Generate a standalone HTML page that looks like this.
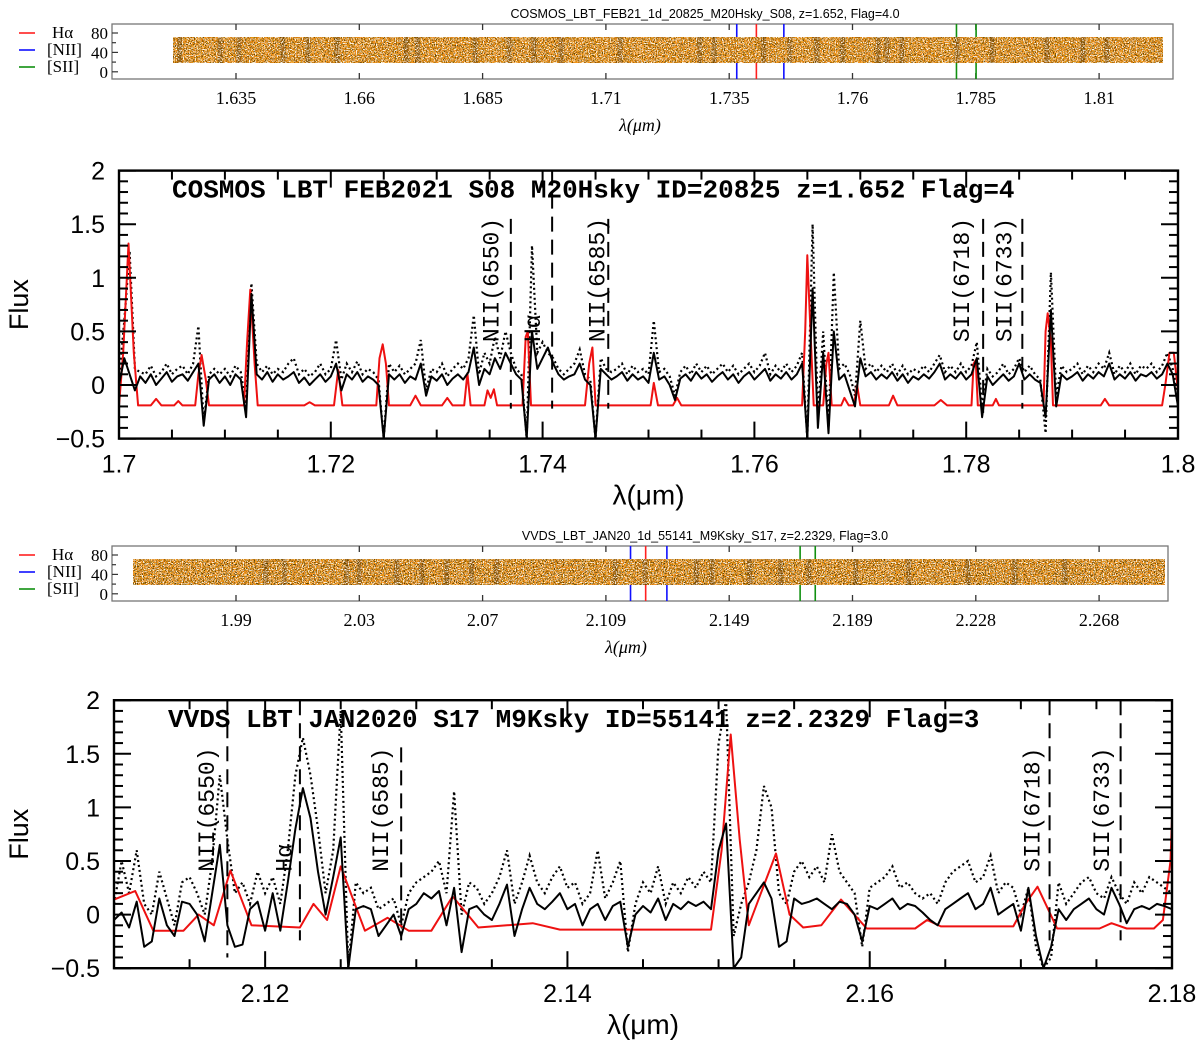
<!DOCTYPE html>
<html><head><meta charset="utf-8">
<style>
html,body{margin:0;padding:0;background:#fff;}
svg{display:block;}
.mono{font-family:"Liberation Mono","DejaVu Sans Mono",monospace;}
.serif{font-family:"Liberation Serif","DejaVu Serif",serif;}
.sans{font-family:"Liberation Sans","DejaVu Sans",sans-serif;}
</style></head>
<body>
<svg id="fig" width="1200" height="1045" viewBox="0 0 1200 1045" xmlns="http://www.w3.org/2000/svg">
<defs>
<filter id="specDark" x="0" y="0" width="100%" height="100%">
<feTurbulence type="fractalNoise" baseFrequency="0.9" numOctaves="1" seed="3"/>
<feColorMatrix type="matrix" values="0 0 0 0 0.1  0 0 0 0 0.05  0 0 0 0 0  9 0 0 0 -4.5"/>
</filter>
<filter id="specLight" x="0" y="0" width="100%" height="100%">
<feTurbulence type="fractalNoise" baseFrequency="0.85" numOctaves="1" seed="11"/>
<feColorMatrix type="matrix" values="0 0 0 0 1  0 0 0 0 0.97  0 0 0 0 0.9  9 0 0 0 -4.7"/>
</filter>
<filter id="specOr" x="0" y="0" width="100%" height="100%">
<feTurbulence type="fractalNoise" baseFrequency="0.7" numOctaves="1" seed="7"/>
<feColorMatrix type="matrix" values="0 0 0 0 0.75  0 0 0 0 0.35  0 0 0 0 0.0  3 0 0 0 -1.3"/>
</filter>
<clipPath id="clip1"><rect x="119" y="171" width="1059" height="268"/></clipPath>
<clipPath id="clip2"><rect x="114" y="700" width="1058" height="268"/></clipPath>
</defs>
</svg>
<script>
// ===== Panel 1 data (COSMOS z=1.652) =====
const p1Start = 1.7;
const p1Step = 0.0005;
const p1Solid = [0.0,0.25,0.1,-0.05,0.08,0.02,0.1,0.0,0.06,0.12,0.03,0.08,0.1,0.04,0.12,0.2,-0.38,0.05,0.1,0.02,0.08,0.0,0.1,0.05,-0.3,0.85,0.1,0.05,0.12,0.03,0.1,0.05,0.08,0.12,0.02,0.07,0.0,0.05,0.1,0.03,0.08,0.2,-0.05,0.1,0.05,0.12,0.03,0.08,0.05,0.0,-0.5,0.1,0.05,0.1,0.02,0.08,0.05,0.2,-0.1,0.08,0.04,0.1,0.0,0.06,0.1,0.05,0.12,0.35,0.0,0.15,0.1,0.25,0.15,0.3,0.2,0.1,0.05,-0.5,0.5,0.15,0.25,0.35,0.2,0.1,0.05,0.08,0.1,0.2,0.05,0.0,-0.5,0.15,0.1,0.05,0.08,0.12,0.04,0.1,0.05,0.08,0.02,0.3,0.05,0.08,0.0,-0.14,0.06,0.1,0.04,0.12,0.06,0.1,0.03,0.08,0.12,0.05,0.1,0.02,0.08,0.12,0.05,0.1,0.15,0.04,0.1,0.06,0.12,0.05,0.1,0.2,-0.5,0.9,-0.4,0.3,-0.45,0.5,0.05,0.1,-0.05,-0.2,0.25,0.08,0.12,0.05,0.1,0.06,0.12,0.04,0.1,0.02,0.08,0.05,0.1,0.06,0.12,0.2,0.05,0.1,0.06,0.12,0.05,0.1,0.25,-0.3,0.08,0.0,0.05,0.1,0.04,0.08,0.2,0.05,0.1,0.05,0.02,-0.3,0.7,-0.2,0.1,0.05,0.08,0.12,0.04,0.1,0.06,0.12,0.08,0.2,0.05,0.1,0.06,0.12,0.04,0.1,0.08,0.12,0.06,0.1,0.2,0.1,-0.2];
const p1Dotted = [0.05,0.6,1.25,0.15,0.12,0.1,0.18,0.08,0.12,0.2,0.1,0.15,0.18,0.1,0.2,0.55,-0.35,0.1,0.15,0.1,0.15,0.08,0.18,0.12,-0.2,0.95,0.2,0.12,0.18,0.1,0.15,0.12,0.2,0.25,0.1,0.15,0.08,0.12,0.2,0.1,0.15,0.42,0.05,0.2,0.12,0.22,0.1,0.15,0.12,0.05,-0.5,0.2,0.12,0.18,0.1,0.15,0.2,0.42,-0.05,0.15,0.12,0.2,0.08,0.15,0.2,0.15,0.25,0.65,0.1,0.3,0.2,0.45,0.25,0.5,0.3,0.15,0.1,-0.5,1.3,0.3,0.4,0.3,0.25,0.15,0.1,0.15,0.2,0.33,0.1,0.05,-0.5,0.25,0.15,0.12,0.15,0.2,0.1,0.18,0.12,0.15,0.1,0.6,0.12,0.15,0.08,-0.1,0.12,0.18,0.1,0.2,0.12,0.18,0.1,0.15,0.2,0.12,0.18,0.1,0.15,0.2,0.12,0.18,0.3,0.1,0.18,0.12,0.2,0.12,0.18,0.3,-0.5,1.5,-0.3,0.5,-0.4,1.05,0.15,0.2,0.1,-0.1,0.6,0.15,0.2,0.12,0.18,0.12,0.2,0.1,0.18,0.1,0.15,0.12,0.18,0.12,0.2,0.28,0.12,0.18,0.12,0.2,0.12,0.18,0.4,-0.2,0.15,0.08,0.12,0.2,0.1,0.15,0.25,0.12,0.18,0.1,0.05,-0.45,1.05,-0.1,0.18,0.12,0.15,0.2,0.1,0.18,0.12,0.2,0.15,0.3,0.1,0.18,0.12,0.2,0.1,0.18,0.15,0.2,0.12,0.18,0.3,0.15,-0.1];
const p1ModelLambda = [1.7,1.7004,1.7009,1.7014,1.7018,1.7030,1.7035,1.7040,1.7052,1.7056,1.7060,1.7072,1.7075,1.7078,1.7082,1.7085,1.7118,1.7121,1.7124,1.7128,1.7131,1.7175,1.7180,1.7185,1.7203,1.7207,1.7211,1.7243,1.7246,1.7249,1.7252,1.7255,1.7275,1.7280,1.7285,1.7305,1.7310,1.7315,1.7326,1.7329,1.7332,1.7345,1.7348,1.7351,1.7354,1.7357,1.7381,1.7384,1.7386,1.7389,1.7440,1.7444,1.7447,1.7450,1.7502,1.7505,1.7509,1.7523,1.7527,1.7531,1.7645,1.7648,1.7650,1.7653,1.7656,1.7665,1.7668,1.7670,1.7673,1.7682,1.7685,1.7689,1.7694,1.7697,1.7700,1.7727,1.7731,1.7735,1.7770,1.7776,1.7782,1.7805,1.7807,1.7809,1.7811,1.7825,1.7828,1.7831,1.7873,1.7875,1.7877,1.7880,1.7882,1.7927,1.7931,1.7935,1.7985,1.7988,1.7992,1.7996,1.8];
const p1ModelFlux = [-0.19,0.3,1.32,0.3,-0.19,-0.19,-0.13,-0.19,-0.19,-0.15,-0.19,-0.19,0.1,0.28,0.05,-0.19,-0.19,0.4,0.89,0.2,-0.19,-0.19,-0.16,-0.19,-0.19,0.14,-0.19,-0.19,0.25,0.38,0.2,-0.19,-0.19,-0.1,-0.19,-0.19,-0.12,-0.19,-0.19,0.11,-0.19,-0.19,-0.05,-0.12,-0.04,-0.19,-0.19,0.45,0.5,-0.19,-0.19,0.2,0.35,-0.19,-0.19,0.02,-0.19,-0.19,-0.12,-0.19,-0.19,0.5,1.21,0.5,-0.19,-0.19,0.2,0.3,-0.19,-0.19,-0.12,-0.19,-0.19,0.0,-0.19,-0.19,-0.1,-0.19,-0.19,-0.14,-0.19,-0.19,0.2,0.23,-0.19,-0.19,-0.13,-0.19,-0.19,0.5,0.67,0.4,-0.19,-0.19,-0.13,-0.19,-0.19,0.0,0.3,0.3,-0.05];
const p1LineNames = ["NII(6550)","Hα","NII(6585)","SII(6718)","SII(6733)"];
const p1LineLambda = [1.7370,1.7409,1.7462,1.7816,1.7853];
const p1LineTop = [1.55,2.0,1.55,1.55,1.55];
const p1LineBottom = [-0.22,-0.22,-0.22,-0.26,-0.22];
const p1LabelLambda = [1.7351,1.7390,1.7451,1.7795,1.7835];
const p1XTicks = [1.7,1.72,1.74,1.76,1.78,1.8];
const p1XTickLabels = ["1.7","1.72","1.74","1.76","1.78","1.8"];

// ===== Panel 2 data (VVDS z=2.2329) =====
const p2Start = 2.11;
const p2Step = 0.0005;
const p2Solid = [-0.05,0.02,-0.12,0.12,-0.3,-0.25,0.15,-0.1,-0.2,0.12,0.1,0.0,-0.25,0.2,0.65,-0.1,-0.3,-0.28,0.05,0.12,-0.15,0.2,-0.15,0.3,0.8,1.18,0.9,0.4,0.0,0.35,0.72,-0.5,0.05,0.08,0.05,-0.2,-0.1,0.0,-0.2,0.05,0.1,0.2,0.15,0.22,-0.1,0.25,-0.35,0.05,0.08,0.0,-0.05,0.1,0.28,-0.2,0.05,0.25,0.1,0.05,0.12,0.2,0.05,0.1,-0.1,0.05,0.1,-0.05,0.08,0.12,-0.3,0.0,0.08,0.02,0.15,-0.05,0.1,0.05,0.12,0.08,0.12,0.05,0.6,0.85,-0.5,-0.4,0.1,0.2,0.3,0.15,-0.3,-0.25,0.15,0.1,0.12,0.15,0.1,0.05,0.12,0.1,0.0,-0.25,0.08,0.05,0.1,0.15,0.05,0.1,0.08,0.02,-0.05,-0.1,0.05,0.1,0.15,0.2,0.05,0.1,0.25,0.0,0.05,0.1,-0.15,0.25,-0.2,-0.5,-0.3,0.05,-0.05,0.05,0.1,0.15,0.05,0.0,0.25,0.1,-0.08,0.05,0.08,0.05,0.1,0.08,0.05];
const p2Dotted = [0.1,0.5,0.2,0.6,0.1,0.0,0.4,0.15,-0.1,0.3,0.35,0.2,0.0,0.5,1.3,0.7,0.2,0.3,0.1,0.4,0.2,0.35,0.1,0.6,1.3,1.65,1.3,0.8,0.2,0.6,1.9,-0.5,0.3,0.2,0.25,0.05,0.1,0.15,-0.1,0.2,0.3,0.35,0.4,0.5,0.2,1.15,0.0,0.3,0.25,0.1,0.2,0.35,0.6,0.1,0.3,0.55,0.3,0.2,0.35,0.45,0.25,0.3,0.1,0.2,0.6,0.15,0.3,0.5,-0.35,0.1,0.3,0.2,0.45,0.1,0.3,0.2,0.35,0.25,0.4,0.3,1.6,2.0,-0.2,0.1,0.3,0.6,1.2,1.0,0.2,0.1,0.4,0.5,0.35,0.45,0.3,0.75,0.4,0.3,0.2,-0.3,0.25,0.3,0.35,0.45,0.25,0.3,0.2,0.15,0.2,0.1,0.3,0.4,0.45,0.5,0.3,0.35,0.55,0.2,0.3,0.25,0.0,0.25,-0.3,-0.5,-0.4,0.3,0.1,0.2,0.3,0.35,0.2,0.15,0.35,0.2,0.1,0.3,0.2,0.35,0.3,0.25,0.2];
const p2ModelLambda = [2.11,2.1114,2.1126,2.1146,2.1156,2.1166,2.1177,2.1191,2.1223,2.1232,2.1241,2.125,2.1266,2.1281,2.1295,2.131,2.1324,2.1341,2.136,2.1377,2.1395,2.1495,2.1502,2.1508,2.1514,2.152,2.1528,2.1538,2.1547,2.1556,2.1568,2.1581,2.1598,2.163,2.1638,2.1647,2.1695,2.1703,2.1711,2.1718,2.1724,2.1752,2.176,2.177,2.1788,2.1794,2.1799,2.18];
const p2ModelFlux = [0.14,0.22,-0.15,-0.15,0.0,-0.1,0.41,-0.1,-0.12,0.1,-0.05,0.45,-0.15,-0.03,-0.15,-0.15,0.17,-0.12,-0.1,-0.08,-0.14,-0.14,0.6,1.68,0.7,-0.1,0.2,0.57,0.0,-0.12,-0.1,0.14,-0.13,-0.13,-0.05,-0.11,-0.11,0.1,0.26,0.05,-0.13,-0.13,-0.08,-0.13,-0.13,-0.05,0.5,0.9];
const p2LineNames = ["NII(6550)","Hα","NII(6585)","SII(6718)","SII(6733)"];
const p2LineLambda = [2.1175,2.1223,2.1290,2.1719,2.1766];
const p2LineTop = [2.0,2.0,1.56,2.0,2.0];
const p2LineBottom = [-0.4,-0.24,-0.24,-0.24,-0.24];
const p2LabelLambda = [2.1161,2.1212,2.1276,2.1707,2.1753];
const p2XTicks = [2.12,2.14,2.16,2.18];
const p2XTickLabels = ["2.12","2.14","2.16","2.18"];

const yTicks = [2,1.5,1,0.5,0,-0.5];
const yTickLabels = ["2","1.5","1","0.5","0","−0.5"];

// ===== Strips =====
const s1Ticks = [1.635,1.66,1.685,1.71,1.735,1.76,1.785,1.81];
const s1TickLabels = ["1.635","1.66","1.685","1.71","1.735","1.76","1.785","1.81"];
const s1LineLambda = [1.73653,1.74051,1.74608,1.78108,1.78506];
const s1LineKind = ["nii","ha","nii","sii","sii"];
const s1Stripes = [1.6236,1.6318,1.6356,1.6445,1.6496,1.6555,1.6695,1.6718,1.6835,1.6904,1.6954,1.7009,1.7129,1.7290,1.7320,1.7420,1.7473,1.7528,1.7580,1.7652,1.7670,1.7700,1.7812,1.7883,1.7994,1.8067,1.8116];
const s2Ticks = [1.9905,2.03,2.0695,2.109,2.1485,2.188,2.2275,2.267];
const s2TickLabels = ["1.99","2.03","2.07","2.109","2.149","2.189","2.228","2.268"];
const s2LineLambda = [2.11689,2.12174,2.12854,2.17122,2.17607];
const s2LineKind = ["nii","ha","nii","sii","sii"];
const s2Stripes = [2.0000,2.0060,2.0260,2.0300,2.0420,2.0500,2.0580,2.0660,2.0740,2.1120,2.1215,2.1380,2.1430,2.1550,2.1650,2.1740,2.1890,2.2060,2.2250,2.2400,2.2560];

const NS = "http://www.w3.org/2000/svg";
const svg = document.getElementById("fig");
function mk(tag, attrs, parent){
  const e = document.createElementNS(NS, tag);
  for (const k in attrs) e.setAttribute(k, attrs[k]);
  (parent||svg).appendChild(e);
  return e;
}
const lineColor = {ha:"#ff2020", nii:"#1010ff", sii:"#109010"};

function strip(cfg){
  const g = mk("g", {});
  
  
  const sx = l => cfg.x0 + (l - cfg.l0) * cfg.k;
  const t = mk("text", {x:705, y:cfg.top-6, "text-anchor":"middle", class:"sans", "font-size":"12.5"}, g);
  t.textContent = cfg.title;
  
  
  const band = mk("g", {}, g);
  
  
  const ix0 = cfg.imgL, ix1 = cfg.imgR, iy0 = cfg.top+13, iy1 = cfg.top+39;
  mk("rect", {x:ix0, y:iy0, width:ix1-ix0, height:iy1-iy0, fill:"#f78f1e"}, band);
  mk("rect", {x:ix0, y:iy0, width:ix1-ix0, height:iy1-iy0, filter:"url(#specOr)"}, band);
  for (let i=0;i<cfg.stripes.length;i++){
    const sxp = sx(cfg.stripes[i]);
    const st = mk("rect", {x:sxp-2.5, y:iy0, width:5, height:iy1-iy0, fill:"#3a2410", opacity:"0.35"}, band);
    
    
  }
  mk("rect", {x:ix0, y:iy0, width:ix1-ix0, height:iy1-iy0, filter:"url(#specDark)", opacity:cfg.darkOp}, band);
  mk("rect", {x:ix0, y:iy0, width:ix1-ix0, height:iy1-iy0, filter:"url(#specLight)", opacity:"0.95"}, band);
  const fr = mk("rect", {x:cfg.left, y:cfg.top, width:cfg.right-cfg.left, height:55, fill:"none", stroke:"#777", "stroke-width":"1.3"}, g);
  
  
  for (let i=0;i<cfg.ticks.length;i++){
    const x = sx(cfg.ticks[i]);
    mk("line", {x1:x, x2:x, y1:cfg.top+55, y2:cfg.top+49, stroke:"#333", "stroke-width":"1.3"}, g);
    mk("line", {x1:x, x2:x, y1:cfg.top, y2:cfg.top+6, stroke:"#333", "stroke-width":"1.3"}, g);
    const tl = mk("text", {x:x, y:cfg.top+80, "text-anchor":"middle", class:"serif", "font-size":"18"}, g);
    tl.textContent = cfg.tickLabels[i];
    
    
  }
  const ylab = ["80","40","0"];
  for (let j=0;j<5;j++){
    const y = cfg.top+9+j*9.7;
    mk("line", {x1:cfg.left, x2:cfg.left+(j%2===0?6:4), y1:y, y2:y, stroke:"#333", "stroke-width":"1.2"}, g);
  }
  for (let j=0;j<3;j++){
    const yl = mk("text", {x:cfg.left-4, y:cfg.top+15+j*19.4, "text-anchor":"end", class:"serif", "font-size":"17"}, g);
    yl.textContent = ylab[j];
    
    
  }
  for (let i=0;i<cfg.lines.length;i++){
    const x = sx(cfg.lines[i]);
    const c = lineColor[cfg.kinds[i]];
    const a = mk("line", {x1:x, x2:x, y1:cfg.top, y2:iy0, stroke:c, "stroke-width":"1.6"}, g);
    
    
    const b = mk("line", {x1:x, x2:x, y1:iy1, y2:cfg.top+55, stroke:c, "stroke-width":"1.6"}, g);
    
    
  }
  const legN = ["Hα","[NII]","[SII]"], legC = [lineColor.ha, lineColor.nii, lineColor.sii];
  for (let j=0;j<3;j++){
    const ly = cfg.top+9+j*17;
    const le = mk("g", {}, g);
    
    
    mk("line", {x1:19, x2:35, y1:ly, y2:ly, stroke:legC[j], "stroke-width":"1.6"}, le);
    const lt = mk("text", {x:j===0?52:47, y:ly+5, class:"serif", "font-size":"17"}, le);
    lt.textContent = legN[j];
  }
  const xl = mk("text", {x:cfg.xlabX, y:cfg.top+107, "text-anchor":"middle", class:"serif", "font-size":"18", "font-style":"italic"}, g);
  xl.textContent = "λ(μm)";
  
  
}

strip({name:"strip-cosmos", title:"COSMOS_LBT_FEB21_1d_20825_M20Hsky_S08, z=1.652, Flag=4.0",
  top:24, left:112, right:1173, imgL:173, imgR:1163, x0:236, l0:1.635, k:4932,
  ticks:s1Ticks, tickLabels:s1TickLabels, lines:s1LineLambda, kinds:s1LineKind, stripes:s1Stripes, darkOp:"0.9", xlabX:640});
strip({name:"strip-vvds", title:"VVDS_LBT_JAN20_1d_55141_M9Ksky_S17, z=2.2329, Flag=3.0",
  top:546, left:112, right:1168, imgL:133, imgR:1165, x0:236, l0:1.9905, k:3121.5,
  ticks:s2Ticks, tickLabels:s2TickLabels, lines:s2LineLambda, kinds:s2LineKind, stripes:s2Stripes, darkOp:"1", xlabX:626});

function panel(cfg){
  const g = mk("g", {});
  
  
  const X = l => cfg.left + (l - cfg.l0) / (cfg.l1 - cfg.l0) * (cfg.right - cfg.left);
  const Y = v => cfg.zeroY - v * 107.2;
  const pts = (lam, val) => lam.map((l,i)=>X(l).toFixed(1)+","+Y(val[i]).toFixed(1)).join(" ");
  const grid = (arr) => arr.map((v,i)=>cfg.start + i*cfg.step);
  const plot = mk("g", {"clip-path":"url(#"+cfg.clip+")"}, g);
  const dot = mk("polyline", {points:pts(grid(cfg.dotted), cfg.dotted), fill:"none", stroke:"#000", "stroke-width":"2.2", "stroke-dasharray":"2,3"}, plot);
  
  
  const red = mk("polyline", {points:pts(cfg.modelL, cfg.modelF), fill:"none", stroke:"#ee1111", "stroke-width":"2", "stroke-linejoin":"round"}, plot);
  
  
  const sol = mk("polyline", {points:pts(grid(cfg.solid), cfg.solid), fill:"none", stroke:"#000", "stroke-width":"2", "stroke-linejoin":"round"}, plot);
  
  
  for (let i=0;i<cfg.lineL.length;i++){
    const x = X(cfg.lineL[i]);
    const dl = mk("line", {x1:x, x2:x, y1:Y(cfg.lineTop[i]), y2:Y(cfg.lineBot[i]), stroke:"#000", "stroke-width":"2", "stroke-dasharray":"15,8"}, g);
    
    
    const lx = X(cfg.labelL[i]) + 8, ly = Y(0.4);
    const tx = mk("text", {x:lx, y:ly, class:"mono", "font-size":"23", transform:"rotate(-90 "+lx+" "+ly+")"}, g);
    tx.textContent = cfg.lineN[i];
    
    
  }
  const top = Y(2), bot = Y(-0.5);
  const fr = mk("rect", {x:cfg.left, y:top, width:cfg.right-cfg.left, height:bot-top, fill:"none", stroke:"#000", "stroke-width":"2.4"}, g);
  
  
  const nMin = Math.round((cfg.l1 - cfg.l0)/0.005);
  for (let i=0;i<=nMin;i++){
    const l = cfg.l0 + i*0.005;
    const major = Math.abs(Math.round(l*50) - l*50) < 1e-6;
    const x = X(l), len = major ? 17 : 9;
    mk("line", {x1:x, x2:x, y1:bot, y2:bot-len, stroke:"#000", "stroke-width":"2"}, g);
    mk("line", {x1:x, x2:x, y1:top, y2:top+len, stroke:"#000", "stroke-width":"2"}, g);
  }
  for (let i=0;i<cfg.xt.length;i++){
    const t = mk("text", {x:X(cfg.xt[i]), y:bot+34, "text-anchor":"middle", class:"sans", "font-size":"25"}, g);
    t.textContent = cfg.xtl[i];
    
    
  }
  for (let j=0;j<=25;j++){
    const v = -0.5 + j*0.1;
    const major = j%5===0, len = major ? 17 : 9, y = Y(v);
    mk("line", {x1:cfg.left, x2:cfg.left+len, y1:y, y2:y, stroke:"#000", "stroke-width":"2"}, g);
    mk("line", {x1:cfg.right, x2:cfg.right-len, y1:y, y2:y, stroke:"#000", "stroke-width":"2"}, g);
  }
  for (let j=0;j<yTicks.length;j++){
    const t = mk("text", {x:cfg.left-14, y:Y(yTicks[j])+9, "text-anchor":"end", class:"sans", "font-size":"25"}, g);
    t.textContent = yTickLabels[j];
    
    
  }
  const tt = mk("text", {x:cfg.titleX, y:top+27, class:"mono", "font-size":"26", "font-weight":"600"}, g);
  tt.textContent = cfg.title;
  
  
  const yl = mk("text", {x:28, y:(top+bot)/2, "text-anchor":"middle", class:"sans", "font-size":"27", transform:"rotate(-90 28 "+((top+bot)/2)+")"}, g);
  yl.textContent = "Flux";
  
  
  const xl = mk("text", {x:(cfg.left+cfg.right)/2, y:bot+66, "text-anchor":"middle", class:"sans", "font-size":"28"}, g);
  xl.textContent = "λ(μm)";
  
  
}

panel({name:"panel-cosmos-1d", clip:"clip1", left:119, right:1178, l0:1.7, l1:1.8, zeroY:385,
  start:p1Start, step:p1Step, solid:p1Solid, dotted:p1Dotted, modelL:p1ModelLambda, modelF:p1ModelFlux,
  lineL:p1LineLambda, lineTop:p1LineTop, lineBot:p1LineBottom, labelL:p1LabelLambda, lineN:p1LineNames,
  xt:p1XTicks, xtl:p1XTickLabels, titleX:172, title:"COSMOS LBT FEB2021 S08 M20Hsky ID=20825 z=1.652 Flag=4"});
panel({name:"panel-vvds-1d", clip:"clip2", left:114, right:1172, l0:2.11, l1:2.18, zeroY:914.6,
  start:p2Start, step:p2Step, solid:p2Solid, dotted:p2Dotted, modelL:p2ModelLambda, modelF:p2ModelFlux,
  lineL:p2LineLambda, lineTop:p2LineTop, lineBot:p2LineBottom, labelL:p2LabelLambda, lineN:p2LineNames,
  xt:p2XTicks, xtl:p2XTickLabels, titleX:168, title:"VVDS LBT JAN2020 S17 M9Ksky ID=55141 z=2.2329 Flag=3"});
</script>
</body></html>
